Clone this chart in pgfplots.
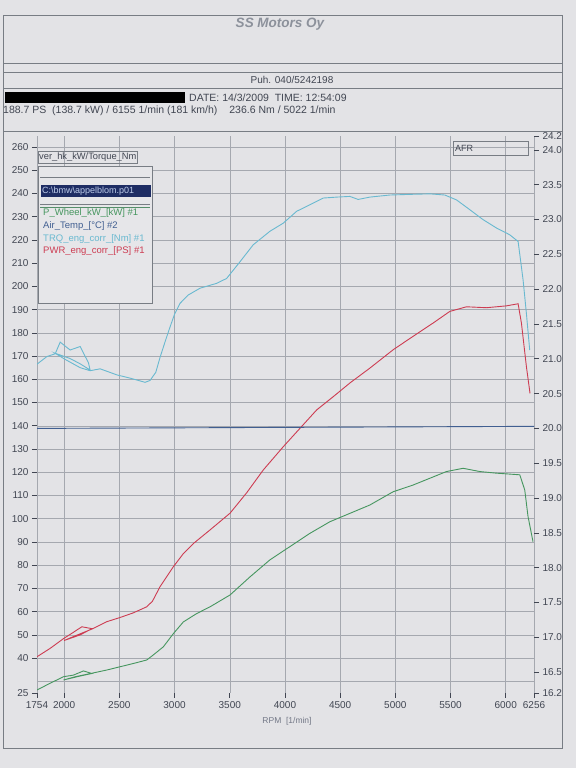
\documentclass[border=0pt]{standalone}
\usepackage{pgfplots}
\pgfplotsset{compat=1.18}
\usepackage{fontspec}
\setmainfont{Liberation Sans}
\definecolor{paper}{RGB}{227,227,230}
\definecolor{framec}{RGB}{120,125,132}
\definecolor{gridc}{RGB}{165,168,175}
\definecolor{labc}{RGB}{65,70,82}
\definecolor{cgreen}{RGB}{70,150,95}
\definecolor{cair}{RGB}{65,95,145}
\definecolor{ccyan}{RGB}{105,185,208}
\definecolor{cred}{RGB}{205,60,82}
\definecolor{navy}{RGB}{30,45,100}

\pgfplotstableread{
rpm val
1754 166.5
1844 169.8
1919 171.0
1964 176.0
2054 172.6
2145 174.1
2220 167.1
2235 164.0
2140 166.8
2050 169.0
1919 171.2
2000 168.8
2145 165.0
2235 163.7
2326 164.5
2477 161.9
2597 160.5
2733 158.7
2778 159.5
2830 163.0
2869 169.5
2920 177.0
2959 182.5
3000 188.0
3050 192.7
3125 196.3
3231 199.2
3382 201.3
3472 203.4
3593 210.6
3713 217.9
3864 223.7
3985 227.2
4106 232.3
4226 235.1
4347 238.0
4468 238.4
4588 238.7
4663 237.4
4769 238.4
4950 239.3
5150 239.6
5312 239.8
5448 239.3
5554 237.2
5674 233.0
5795 228.7
5916 225.1
6036 222.2
6112 219.3
6157 202.8
6187 188.4
6217 172.6
}\trq

\pgfplotstableread{
rpm val
1754 40.6
1873 44.2
1994 48.4
2080 51.0
2160 53.5
2251 52.7
2145 50.0
2000 47.6
2100 49.6
2251 52.5
2387 55.7
2507 57.5
2627 59.5
2748 62.1
2800 64.5
2869 70.8
2990 79.4
3080 85.0
3170 89.3
3322 95.2
3503 102.4
3654 111.2
3804 121.0
3985 131.0
4136 138.9
4287 146.8
4437 152.5
4588 158.4
4769 164.8
4980 172.7
5161 178.5
5342 184.2
5493 189.2
5644 191.2
5825 190.8
6006 191.6
6112 192.5
6142 184.2
6187 165.5
6220 153.9
}\pwr

\pgfplotstableread{
rpm val
1754 26.3
1873 29.2
1994 32.0
2084 32.7
2175 34.5
2251 33.4
2145 32.3
1994 30.6
2100 32.0
2251 33.5
2387 34.9
2507 36.3
2627 37.7
2748 39.2
2808 41.4
2899 44.9
2990 50.6
3080 55.6
3201 59.2
3322 62.1
3503 67.2
3684 75.0
3864 82.3
4045 88.0
4226 93.7
4407 98.7
4588 102.3
4769 105.9
4980 111.6
5161 114.5
5312 117.4
5463 120.3
5614 121.7
5765 120.3
5916 119.6
6127 118.9
6172 112.4
6202 100.9
6247 90.1
}\pwheel

\begin{document}
\begin{tikzpicture}[x=1pt,y=1pt]
\path[use as bounding box,fill=paper] (0,0) rectangle (576,768);
% frames
\begin{scope}[draw=framec,line width=0.8pt]
\draw (3,{768-15}) rectangle (562,{768-748});
\draw (3,{768-63}) -- (562,{768-63});
\draw (3,{768-72}) -- (562,{768-72});
\draw (3,{768-88}) -- (562,{768-88});
\draw (3,{768-131}) -- (562,{768-131});
\end{scope}
\node[font=\fontsize{13.5}{15}\selectfont\bfseries\itshape,text={rgb,255:red,140;green,145;blue,155}] at (280,{768-24}) {SS Motors Oy};
\node[font=\fontsize{10}{11}\selectfont,text=labc] at (292,{768-80}) {Puh. 040/5242198};
\fill[black] (5,{768-92}) rectangle (185,{768-103});
\node[font=\fontsize{10.5}{11}\selectfont,text=labc,anchor=west,inner sep=0pt] at (189,{768-97.5}) {DATE: 14/3/2009\ \ TIME: 12:54:09};
\node[font=\fontsize{10.5}{11}\selectfont,text=labc,anchor=west,inner sep=0pt] at (3,{768-111}) {188.7 PS\ \ (138.7 kW) / 6155 1/min (181 km/h)\hspace{12pt}236.6 Nm / 5022 1/min};

\begin{axis}[
  at={(37pt,75pt)}, anchor=south west, scale only axis,
  width=497pt, height=557pt,
  xmin=1754, xmax=6256, ymin=25, ymax=264.7,
  xtick={1754,2000,2500,3000,3500,4000,4500,5000,5500,6000,6256},
  xticklabels={1754,2000,2500,3000,3500,4000,4500,5000,5500,6000,6256},
  ytick={25,40,50,60,70,80,90,100,110,120,130,140,150,160,170,180,190,200,210,220,230,240,250,260},
  yticklabels={25,40,50,60,70,80,90,100,110,120,130,140,150,160,170,180,190,200,210,220,230,240,250,260},
  minor ytick={30,40,...,260},
  yminorgrids, xmajorgrids,
  minor tick length=0pt,
  major tick length=5pt,
  tick align=outside,
  xtick pos=bottom, ytick pos=left,
  axis line style={draw=none},
  tick style={draw=labc,line width=0.6pt},
  major grid style={draw=gridc,line width=0.5pt},
  minor grid style={draw=gridc,line width=0.5pt},
  ticklabel style={font=\fontsize{10}{12}\selectfont,text=labc},
  /pgf/number format/assume math mode=true,
]
\addplot[draw=cgreen,line width=0.9pt] table[x=rpm,y=val] {\pwheel};
\addplot[draw=ccyan,line width=0.9pt] table[x=rpm,y=val] {\trq};
\addplot[draw=cred,line width=0.9pt] table[x=rpm,y=val] {\pwr};
\end{axis}

\begin{axis}[
  at={(37pt,75pt)}, anchor=south west, scale only axis,
  width=497pt, height=557pt,
  xmin=1754, xmax=6256, ymin=16.2, ymax=24.2,
  axis x line=none,
  axis y line*=right,
  axis line style={draw=none},
  ytick={16.2,16.5,17.0,17.5,18.0,18.5,19.0,19.5,20.0,20.5,21.0,21.5,22.0,22.5,23.0,23.5,24.0,24.2},
  yticklabels={16.2,16.5,17.0,17.5,18.0,18.5,19.0,19.5,20.0,20.5,21.0,21.5,22.0,22.5,23.0,23.5,24.0,24.2},
  tick align=outside, major tick length=5pt,
  tick style={draw=labc,line width=0.6pt},
  ticklabel style={font=\fontsize{10}{12}\selectfont,text=labc},
  /pgf/number format/assume math mode=true,
]
\addplot[draw=cair,line width=0.9pt] coordinates {(1754,20.0) (6256,20.03)};
\end{axis}

% x label
\node[font=\fontsize{8.5}{10}\selectfont,text={rgb,255:red,115;green,120;blue,135}] at (287,{768-721}) {RPM\ \ [1/min]};

% title box of left axis
\draw[draw=framec,line width=0.6pt] (38,{768-151.5}) rectangle (137,{768-163.5});
\node[font=\fontsize{9.3}{10}\selectfont,text=labc,anchor=west,inner sep=0pt] at (39,{768-157.5}) {ver\_hk\_kW/Torque\_Nm};
% AFR box
\draw[draw=framec,line width=0.6pt] (453,{768-141.5}) rectangle (528,{768-155});
\node[font=\fontsize{9}{10}\selectfont,text=labc,anchor=west,inner sep=0pt] at (455,{768-148.3}) {AFR};
% legend box
\draw[draw=framec,line width=0.7pt,fill={rgb,255:red,230;green,230;blue,233}] (38,{768-166}) rectangle (152,{768-303});
\draw[draw=framec,line width=0.5pt] (40,{768-177}) -- (150,{768-177});
\fill[navy] (40.5,{768-185}) rectangle (151,{768-197});
\node[font=\fontsize{9}{10}\selectfont,text={rgb,255:red,190;green,205;blue,235},anchor=west,inner sep=0pt] at (42,{768-191}) {C:\textbackslash bmw\textbackslash appelblom.p01};
\draw[draw=framec,line width=0.5pt] (40,{768-204}) -- (150,{768-204});
\draw[draw=cgreen!70!framec,line width=0.5pt] (40,{768-207}) -- (150,{768-207});
\node[font=\fontsize{9.5}{10}\selectfont,text=cgreen,anchor=west,inner sep=0pt] at (43,{768-213}) {P\_Wheel\_kW\_[kW] \#1};
\node[font=\fontsize{9.5}{10}\selectfont,text=cair,anchor=west,inner sep=0pt] at (43,{768-226.5}) {Air\_Temp\_[°C] \#2};
\node[font=\fontsize{9.5}{10}\selectfont,text=ccyan,anchor=west,inner sep=0pt] at (43,{768-239}) {TRQ\_eng\_corr\_[Nm] \#1};
\node[font=\fontsize{9.5}{10}\selectfont,text=cred,anchor=west,inner sep=0pt] at (43,{768-251}) {PWR\_eng\_corr\_[PS] \#1};
\end{tikzpicture}
\end{document}
